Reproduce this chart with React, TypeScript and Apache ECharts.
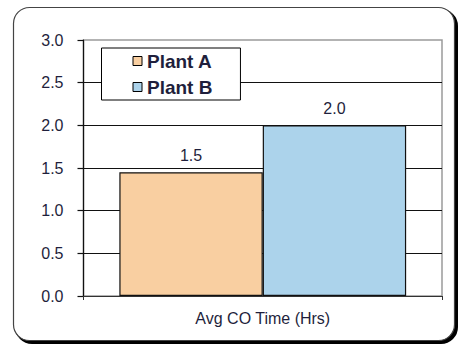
import React, { useEffect, useRef } from "react";
import * as echarts from "echarts";

const categories = ["Avg CO Time (Hrs)"];
const plantA = [1.45];
const plantB = [2.0];
const seriesNames = ["Plant A", "Plant B"];
const yTicks = { min: 0, max: 3, interval: 0.5 };

const TEXT = "#1f1f3c";
const FONT = "Liberation Sans, Arial, sans-serif";

const fmt1 = (v: number) => (Math.round(v * 10 + 1e-9) / 10).toFixed(1);

export default function App() {
  const ref = useRef<HTMLDivElement>(null);

  useEffect(() => {
    document.body.style.margin = "0";
    const chart = echarts.init(ref.current!, null, { renderer: "svg" });
    chart.setOption({
      animation: false,
      backgroundColor: "#ffffff",
      textStyle: { fontFamily: FONT },
      graphic: {
        elements: [
          {
            type: "rect",
            z: -20,
            silent: true,
            shape: { x: 16, y: 10, width: 441, height: 333, r: 16 },
            style: { fill: "#000", stroke: "#000", lineWidth: 2 },
          },
          {
            type: "rect",
            z: -10,
            silent: true,
            shape: { x: 13.5, y: 7.5, width: 441, height: 333, r: 16 },
            style: { fill: "#fff", stroke: "#444", lineWidth: 1.2 },
          },
        ],
      },
      grid: {
        left: 83.5,
        right: 20,
        top: 40,
        bottom: 49,
        show: true,
        borderColor: "#9a9a9a",
        borderWidth: 1.5,
        backgroundColor: "transparent",
      },
      legend: {
        orient: "vertical",
        left: 101.5,
        top: 48,
        data: seriesNames,
        icon: "rect",
        itemWidth: 9,
        itemHeight: 9,
        itemGap: 6,
        padding: [3, 28, 3, 31],
        backgroundColor: "#fff",
        borderColor: "#000",
        borderWidth: 1,
        itemStyle: { borderColor: "#000", borderWidth: 1 },
        textStyle: {
          fontFamily: FONT,
          fontSize: 19,
          fontWeight: "bold",
          color: TEXT,
          lineHeight: 20,
        },
      },
      xAxis: {
        type: "category",
        data: categories,
        boundaryGap: true,
        axisLine: { lineStyle: { color: "#333", width: 1.2 } },
        axisTick: { show: true, length: 4, lineStyle: { color: "#333" } },
        axisLabel: {
          fontFamily: FONT,
          fontSize: 16,
          color: TEXT,
          margin: 14,
        },
      },
      yAxis: {
        type: "value",
        min: yTicks.min,
        max: yTicks.max,
        interval: yTicks.interval,
        axisLine: { show: true, lineStyle: { color: "#111", width: 1.2 } },
        axisTick: {
          show: true,
          inside: false,
          length: 6,
          lineStyle: { color: "#111", width: 1.2 },
        },
        axisLabel: {
          fontFamily: FONT,
          fontSize: 16,
          color: TEXT,
          margin: 20,
          formatter: (v: number) => v.toFixed(1),
        },
        splitLine: {
          show: true,
          showMaxLine: false,
          lineStyle: { color: "#111", width: 1.2 },
        },
      },
      series: [
        {
          name: seriesNames[0],
          type: "bar",
          data: plantA,
          barGap: "0%",
          barCategoryGap: "20%",
          itemStyle: { color: "#f9cfa1", borderColor: "#111", borderWidth: 1.2 },
          label: {
            show: true,
            position: "top",
            distance: 9,
            fontFamily: FONT,
            fontSize: 16,
            color: TEXT,
            formatter: (p: any) => fmt1(p.value),
          },
        },
        {
          name: seriesNames[1],
          type: "bar",
          data: plantB,
          barGap: "0%",
          barCategoryGap: "20%",
          itemStyle: { color: "#acd3eb", borderColor: "#111", borderWidth: 1.2 },
          label: {
            show: true,
            position: "top",
            distance: 9,
            fontFamily: FONT,
            fontSize: 16,
            color: TEXT,
            formatter: (p: any) => fmt1(p.value),
          },
        },
      ],
    });
    return () => chart.dispose();
  }, []);

  return <div ref={ref} style={{ width: 462, height: 345 }} />;
}
